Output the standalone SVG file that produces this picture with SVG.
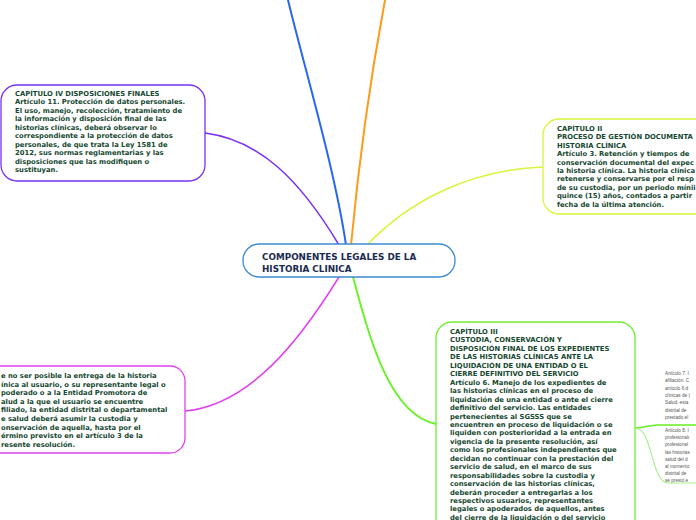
<svg xmlns="http://www.w3.org/2000/svg" width="696" height="520" viewBox="0 0 696 520">
<style>
.box{fill:#fff;stroke-width:1.3}
.t{font-family:"DejaVu Sans",Verdana,sans-serif;font-weight:bold;font-size:6.8px;fill:#15472f}
.c{font-family:"DejaVu Sans",Verdana,sans-serif;font-weight:bold;font-size:8.8px;fill:#1b2b50}
.s{font-family:"Liberation Sans",Arial,sans-serif;font-size:4.7px;fill:#555}
.ln{fill:none;stroke-linecap:round}
</style>
<rect width="696" height="520" fill="#fff"/>
<g id="connectors">
<path class="ln" d="M346,245 C335,170 305,70 288,0" stroke="#2a66f0" stroke-width="2"/>
<path class="ln" d="M351,245 C358,170 370,80 385,0" stroke="#ff9a1a" stroke-width="2"/>
<path class="ln" d="M339,245 C300,180 260,140 205,133" stroke="#7a30f0" stroke-width="1.5"/>
<path class="ln" d="M367,245 C410,200 470,170 543,167" stroke="#d8f53a" stroke-width="1.5"/>
<path class="ln" d="M339,277 C300,340 250,405 185,411" stroke="#e040f0" stroke-width="1.5"/>
<path class="ln" d="M353,277 C370,340 390,415 436,424" stroke="#6ef030" stroke-width="2"/>
<path class="ln" d="M636,428 C645,428 648,425 658,425 L696,425" stroke="#66ee22" stroke-width="1.5"/>
<path class="ln" d="M638,429 C652,432 652,483 668,483 L696,483" stroke="#a8f090" stroke-width="1.2"/>
</g>
<g id="central">
<rect class="box" x="243" y="244" width="212" height="33" rx="16" stroke="#3a8ad0"/>
<text class="c" x="262" y="260">COMPONENTES LEGALES DE LA</text>
<text class="c" x="262" y="272">HISTORIA CLINICA</text>
</g>
<g id="cap4">
<rect class="box" x="1" y="85" width="204" height="96" rx="16" stroke="#7a30f0"/>
<text class="t" x="15" y="96">CAPÍTULO IV DISPOSICIONES FINALES</text>
<text class="t" x="15" y="104.45">Artículo 11. Protección de datos personales.</text>
<text class="t" x="15" y="112.9">El uso, manejo, recolección, tratamiento de</text>
<text class="t" x="15" y="121.35">la información y disposición final de las</text>
<text class="t" x="15" y="129.8">historias clínicas, deberá observar lo</text>
<text class="t" x="15" y="138.25">correspondiente a la protección de datos</text>
<text class="t" x="15" y="146.7">personales, de que trata la Ley 1581 de</text>
<text class="t" x="15" y="155.15">2012, sus normas reglamentarias y las</text>
<text class="t" x="15" y="163.6">disposiciones que las modifiquen o</text>
<text class="t" x="15" y="172.05">sustituyan.</text>
</g>
<g id="cap2">
<rect class="box" x="543" y="119" width="180" height="95" rx="16" stroke="#d8f53a"/>
<text class="t" x="557" y="131">CAPÍTULO II</text>
<text class="t" x="557" y="139.4">PROCESO DE GESTIÓN DOCUMENTA</text>
<text class="t" x="557" y="147.8">HISTORIA CLÍNICA</text>
<text class="t" x="557" y="156.2">Artículo 3. Retención y tiempos de</text>
<text class="t" x="557" y="164.6">conservación documental del expec</text>
<text class="t" x="557" y="173">la historia clínica. La historia clínica</text>
<text class="t" x="557" y="181.4">retenerse y conservarse por el resp</text>
<text class="t" x="557" y="189.8">de su custodia, por un periodo mínii</text>
<text class="t" x="557" y="198.2">quince (15) años, contados a partir</text>
<text class="t" x="557" y="206.6">fecha de la última atención.</text>
</g>
<g id="cap3">
<rect class="box" x="436" y="322" width="199" height="220" rx="16" stroke="#6ef030"/>
<text class="t" x="450" y="334">CAPÍTULO III</text>
<text class="t" x="450" y="342.45">CUSTODIA, CONSERVACIÓN Y</text>
<text class="t" x="450" y="350.9">DISPOSICIÓN FINAL DE LOS EXPEDIENTES</text>
<text class="t" x="450" y="359.35">DE LAS HISTORIAS CLÍNICAS ANTE LA</text>
<text class="t" x="450" y="367.8">LIQUIDACIÓN DE UNA ENTIDAD O EL</text>
<text class="t" x="450" y="376.25">CIERRE DEFINITIVO DEL SERVICIO</text>
<text class="t" x="450" y="384.7">Artículo 6. Manejo de los expedientes de</text>
<text class="t" x="450" y="393.15">las historias clínicas en el proceso de</text>
<text class="t" x="450" y="401.6">liquidación de una entidad o ante el cierre</text>
<text class="t" x="450" y="410.05">definitivo del servicio. Las entidades</text>
<text class="t" x="450" y="418.5">pertenecientes al SGSSS que se</text>
<text class="t" x="450" y="426.95">encuentren en proceso de liquidación o se</text>
<text class="t" x="450" y="435.4">liquiden con posterioridad a la entrada en</text>
<text class="t" x="450" y="443.85">vigencia de la presente resolución, así</text>
<text class="t" x="450" y="452.3">como los profesionales independientes que</text>
<text class="t" x="450" y="460.75">decidan no continuar con la prestación del</text>
<text class="t" x="450" y="469.2">servicio de salud, en el marco de sus</text>
<text class="t" x="450" y="477.65">responsabilidades sobre la custodia y</text>
<text class="t" x="450" y="486.1">conservación de las historias clínicas,</text>
<text class="t" x="450" y="494.55">deberán proceder a entregarlas a los</text>
<text class="t" x="450" y="503">respectivos usuarios, representantes</text>
<text class="t" x="450" y="511.45">legales o apoderados de aquellos, antes</text>
<text class="t" x="450" y="519.6">del cierre de la liquidación o del servicio</text>
</g>
<g id="art">
<rect class="box" x="-30" y="366" width="215" height="87" rx="15" stroke="#e040f0"/>
<text class="t" x="1" y="378">e no ser posible la entrega de la historia</text>
<text class="t" x="1" y="386.6">ínica al usuario, o su representante legal o</text>
<text class="t" x="1" y="395.2">poderado o a la Entidad Promotora de</text>
<text class="t" x="1" y="403.8">alud a la que el usuario se encuentre</text>
<text class="t" x="1" y="412.4">filiado, la entidad distrital o departamental</text>
<text class="t" x="1" y="421">e salud deberá asumir la custodia y</text>
<text class="t" x="1" y="429.6">onservación de aquella, hasta por el</text>
<text class="t" x="1" y="438.2">érmino previsto en el artículo 3 de la</text>
<text class="t" x="1" y="446.8">resente resolución.</text>
</g>
<g id="art7">
<text class="s" x="665" y="375">Artículo 7. I</text>
<text class="s" x="665" y="382.3">afiliación. C</text>
<text class="s" x="665" y="389.6">artículo 6 d</text>
<text class="s" x="665" y="396.9">clínicas de (</text>
<text class="s" x="665" y="404.2">Salud, esta</text>
<text class="s" x="665" y="411.5">distrital de</text>
<text class="s" x="665" y="418.8">prestado el</text>
</g>
<g id="art8">
<text class="s" x="665" y="432">Artículo 8. I</text>
<text class="s" x="665" y="439.2">profesionalı</text>
<text class="s" x="665" y="446.4">profesional</text>
<text class="s" x="665" y="453.6">las historias</text>
<text class="s" x="665" y="460.8">salud del d</text>
<text class="s" x="665" y="468">al momento</text>
<text class="s" x="665" y="475.2">distrital de</text>
<text class="s" x="665" y="482.4">se prestó e</text>
</g>
</svg>
